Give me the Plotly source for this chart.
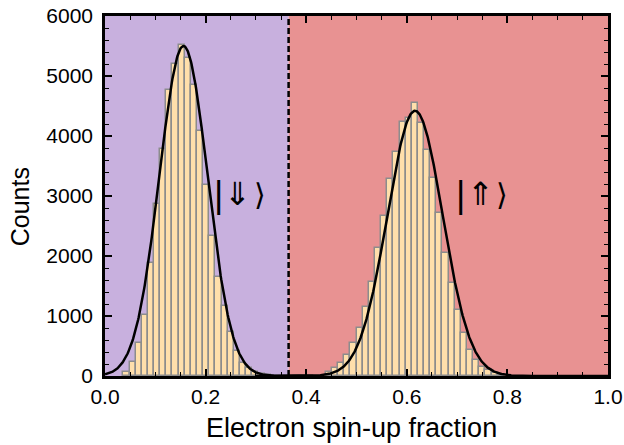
import numpy as np
import plotly.graph_objects as go

# ---- data ----
bin_width = 0.0122
left_first_edge = 0.0365
right_first_edge = 0.4391

left_counts = [72, 228, 545, 1017, 1889, 2867, 3783, 4767, 5200, 5517, 5294, 4850,
               4083, 3183, 2339, 1656, 1167, 728, 422, 222, 128, 72, 30, 10]
right_counts = [72, 139, 211, 350, 544, 794, 1156, 1572, 2128, 2667, 3278, 3739,
                4239, 4294, 4544, 4211, 3767, 3294, 2711, 2044, 1544, 1100, 711,
                433, 267, 156, 100, 44, 20]

# Gaussian fit parameters (amplitude, centre, sigma)
fit_down = (5500, 0.156, 0.0479)
fit_up = (4420, 0.6164, 0.055)

threshold = 0.365
x_ticks = [0.0, 0.2, 0.4, 0.6, 0.8, 1.0]
x_ticklabels = ["0.0", "0.2", "0.4", "0.6", "0.8", "1.0"]
y_ticks = [0, 1000, 2000, 3000, 4000, 5000, 6000]
# ket labels: (bar, arrow, bracket) with their x positions
ket_down = ["|", "\u21d3", "\u27e9"]
ket_up = ["|", "\u21d1", "\u27e9"]
ket_down_x = [0.2247, 0.2644, 0.3082]
ket_up_x = [0.7058, 0.7475, 0.7893]
ket_y = 3033
x_title = "Electron spin-up fraction"
y_title = "Counts"

# ---- colours ----
col_down = "#C8B0DE"
col_up = "#E89292"
bar_fill = "#FFDFAB"
bar_edge = "#8C8C8C"

left_x = left_first_edge + bin_width * (np.arange(len(left_counts)) + 0.5)
right_x = right_first_edge + bin_width * (np.arange(len(right_counts)) + 0.5)

def gauss(x, p):
    a, mu, s = p
    return a * np.exp(-0.5 * ((x - mu) / s) ** 2)

xx = np.linspace(0, 1, 1001)

fig = go.Figure()
for xs, ys in [(left_x, left_counts), (right_x, right_counts)]:
    fig.add_trace(go.Bar(x=xs, y=ys, width=bin_width,
                         marker=dict(color=bar_fill, line=dict(color=bar_edge, width=1.5)),
                         showlegend=False, hoverinfo="skip"))
xl = xx[xx <= threshold + 0.05]
fig.add_trace(go.Scatter(x=xl, y=gauss(xl, fit_down), mode="lines",
                         line=dict(color="black", width=2.5), showlegend=False))
xr = xx[xx >= 0.3]
fig.add_trace(go.Scatter(x=xr, y=gauss(xr, fit_up), mode="lines",
                         line=dict(color="black", width=2.5), showlegend=False))

fig.add_shape(type="rect", xref="x", yref="y", x0=0, x1=threshold, y0=0, y1=6000,
              fillcolor=col_down, line_width=0, layer="below")
fig.add_shape(type="rect", xref="x", yref="y", x0=threshold, x1=1, y0=0, y1=6000,
              fillcolor=col_up, line_width=0, layer="below")
fig.add_shape(type="line", xref="x", yref="y", x0=threshold, x1=threshold, y0=0, y1=6000,
              line=dict(color="black", width=2.5, dash="6px,3px"), layer="above")

ket_fonts = [dict(family="Liberation Sans", size=36, color="black"),
             dict(family="DejaVu Sans", size=32, color="black"),
             dict(family="DejaVu Sans", size=30, color="black")]
for parts, xs in [(ket_down, ket_down_x), (ket_up, ket_up_x)]:
    for i, (p, px) in enumerate(zip(parts, xs)):
        fig.add_annotation(x=px, y=ket_y, text=p,
                           showarrow=False, xanchor="center", yanchor="middle",
                           font=ket_fonts[i])

# axis titles as paper annotations for exact placement
fig.add_annotation(xref="paper", yref="paper", x=0.49, y=-0.145, text=x_title,
                   showarrow=False, xanchor="center", yanchor="middle",
                   font=dict(size=27))
fig.add_annotation(xref="paper", yref="paper", x=-0.17, y=0.47, text=y_title,
                   showarrow=False, xanchor="center", yanchor="middle", textangle=-90,
                   font=dict(size=25))

font_fam = "Liberation Sans, Arial, sans-serif"
fig.update_layout(
    width=624, height=445,
    margin=dict(l=105, r=16, t=16, b=69, autoexpand=False),
    paper_bgcolor="white", plot_bgcolor="white",
    bargap=0, barmode="overlay",
    font=dict(family=font_fam, size=21, color="black"),
)
fig.update_xaxes(range=[0, 1], tickvals=x_ticks, ticktext=x_ticklabels,
                 ticks="inside", ticklen=7, tickwidth=1.5, tickcolor="black",
                 minor=dict(dtick=0.05, ticks="inside", ticklen=4, tickwidth=1.2, tickcolor="black"),
                 showline=True, linewidth=2.5, linecolor="black", mirror="allticks",
                 showgrid=False, zeroline=False, automargin=False,
                 tickfont=dict(size=21))
fig.update_yaxes(range=[0, 6000], tickvals=y_ticks,
                 ticks="inside", ticklen=7, tickwidth=1.5, tickcolor="black",
                 minor=dict(dtick=200, ticks="inside", ticklen=4, tickwidth=1.2, tickcolor="black"),
                 showline=True, linewidth=2.5, linecolor="black", mirror="allticks",
                 showgrid=False, zeroline=False, automargin=False,
                 ticklabelstandoff=5,
                 tickfont=dict(size=21))

fig.write_html("out.html")
